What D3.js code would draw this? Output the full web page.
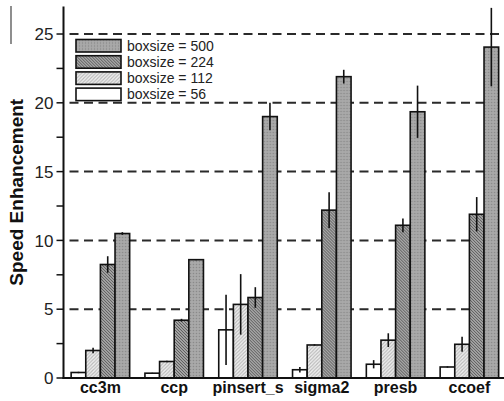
<!DOCTYPE html>
<html><head><meta charset="utf-8">
<script src="https://cdn.jsdelivr.net/npm/d3@7"></script>
<style>body{margin:0;background:#fff}svg{display:block}</style>
</head><body>
<svg id="c" width="504" height="401"></svg>
<script>
const categories = ["cc3m","ccp","pinsert_s","sigma2","presb","ccoef"];
const seriesNames = ["boxsize = 56","boxsize = 112","boxsize = 224","boxsize = 500"];
const s56  = [0.4, 0.35, 3.5, 0.6, 1.0, 0.8];
const e56  = [0.05, 0.03, 2.55, 0.2, 0.3, 0.05];
const s112 = [2.0, 1.2, 5.35, 2.4, 2.75, 2.45];
const e112 = [0.2, 0.05, 2.2, 0.05, 0.5, 0.55];
const s224 = [8.25, 4.2, 5.85, 12.2, 11.1, 11.9];
const e224 = [0.6, 0.1, 0.75, 1.3, 0.5, 1.25];
const s500 = [10.5, 8.6, 19.0, 21.9, 19.35, 24.05];
const e500 = [0.1, 0.05, 1.0, 0.5, 1.9, 2.85];
const majorTicks = [0,5,10,15,20,25];
const minorTicks = [2.5,7.5,12.5,17.5,22.5];

const values = [s56, s112, s224, s500];
const errors = [e56, e112, e224, e500];
const fills = ["#ffffff","url(#p112)","url(#p224)","url(#p500)"];

const svg = d3.select("#c");
const defs = svg.append("defs");
const p500 = defs.append("pattern").attr("id","p500").attr("patternUnits","userSpaceOnUse").attr("width",3).attr("height",3);
p500.append("rect").attr("width",3).attr("height",3).attr("fill","#a4a4a4");
p500.append("rect").attr("x",0).attr("y",0).attr("width",1).attr("height",1).attr("fill","#888");
p500.append("rect").attr("x",1.5).attr("y",1.5).attr("width",1).attr("height",1).attr("fill","#b8b8b8");
const p224 = defs.append("pattern").attr("id","p224").attr("patternUnits","userSpaceOnUse").attr("width",3).attr("height",3);
p224.append("rect").attr("width",3).attr("height",3).attr("fill","#c4c4c4");
p224.append("path").attr("d","M-1,-1L4,4M-1,2L1,4M2,-1L4,1").attr("stroke","#555").attr("stroke-width",1.1);
const p112 = defs.append("pattern").attr("id","p112").attr("patternUnits","userSpaceOnUse").attr("width",3.5).attr("height",3.5);
p112.append("rect").attr("width",3.5).attr("height",3.5).attr("fill","#f2f2f2");
p112.append("path").attr("d","M-1,4.5L4.5,-1M-1,1L1,-1M2.5,4.5L4.5,2.5").attr("stroke","#b8b8b8").attr("stroke-width",1.1);

const x0 = 63.5, yTop = 6.5, yBot = 378;
const x = d3.scaleBand().domain(categories).range([x0, x0 + 6*73.8]).paddingInner(0.207).paddingOuter(0.1035);
const xs = d3.scaleBand().domain(d3.range(4)).range([0, x.bandwidth()]);
const y = d3.scaleLinear().domain([0,27]).range([yBot, yTop]);

svg.append("g").selectAll("line").data(majorTicks.filter(d=>d>0)).join("line")
  .attr("x1", x0+6).attr("x2", 504).attr("y1", d=>y(d)).attr("y2", d=>y(d))
  .attr("stroke","#2a2a2a").attr("stroke-width",2).attr("stroke-dasharray","9,5.5");

const groups = svg.append("g").selectAll("g").data(categories).join("g")
  .attr("transform", c=>`translate(${x(c)},0)`);
groups.each(function(c, ci){
  const g = d3.select(this);
  for (let si=0; si<4; si++){
    const v = values[si][ci];
    g.append("rect").attr("x", xs(si)).attr("width", xs.bandwidth())
      .attr("y", y(v)).attr("height", yBot - y(v))
      .attr("fill", fills[si]).attr("stroke","#111").attr("stroke-width",1.6);
  }
  for (let si=0; si<4; si++){
    const v = values[si][ci], e = errors[si][ci];
    g.append("line").attr("x1", xs(si)+xs.bandwidth()/2).attr("x2", xs(si)+xs.bandwidth()/2)
      .attr("y1", y(Math.max(0,v-e))).attr("y2", y(Math.min(27,v+e)))
      .attr("stroke","#111").attr("stroke-width",1.6);
  }
});

svg.append("line").attr("x1",x0).attr("x2",x0).attr("y1",yTop).attr("y2",yBot+1)
  .attr("stroke","#111").attr("stroke-width",2);
svg.append("line").attr("x1",x0-1).attr("x2",504).attr("y1",yBot).attr("y2",yBot)
  .attr("stroke","#111").attr("stroke-width",2);
svg.append("g").selectAll("line").data(majorTicks.concat(minorTicks)).join("line")
  .attr("x1",x0-7).attr("x2",x0).attr("y1",d=>y(d)).attr("y2",d=>y(d))
  .attr("stroke","#111").attr("stroke-width",1.5);
svg.append("g").selectAll("text").data(majorTicks).join("text")
  .attr("x", x0-10).attr("y", d=>y(d)).attr("dy","0.36em").attr("text-anchor","end")
  .attr("font-family","Liberation Sans, Arial, sans-serif").attr("font-size",17).attr("fill","#222")
  .text(d=>d);
svg.append("g").selectAll("text").data(categories).join("text")
  .attr("x", c=>x(c)+x.bandwidth()/2).attr("y", 393).attr("text-anchor","middle")
  .attr("font-family","Liberation Sans, Arial, sans-serif").attr("font-weight","bold").attr("font-size",16).attr("fill","#111")
  .text(c=>c);
svg.append("text").attr("transform",`translate(23,${(yTop+yBot)/2}) rotate(-90)`)
  .attr("text-anchor","middle").attr("font-family","Liberation Sans, Arial, sans-serif")
  .attr("font-weight","bold").attr("font-size",19).attr("fill","#111")
  .text("Speed Enhancement");
svg.append("line").attr("x1",11).attr("x2",11).attr("y1",6).attr("y2",44).attr("stroke","#444").attr("stroke-width",1.2);

const legOrder = [3,2,1,0];
const leg = svg.append("g").selectAll("g").data(legOrder).join("g")
  .attr("transform",(d,i)=>`translate(76,${39.5 + i*16.2})`);
leg.append("rect").attr("width",45).attr("height",12.5).attr("fill",d=>fills[d])
  .attr("stroke","#111").attr("stroke-width",1.6);
leg.append("text").attr("x",51).attr("y",6.25).attr("dy","0.36em")
  .attr("font-family","Liberation Sans, Arial, sans-serif").attr("font-size",14).attr("fill","#222")
  .text(d=>seriesNames[d]);
</script>
</body></html>
